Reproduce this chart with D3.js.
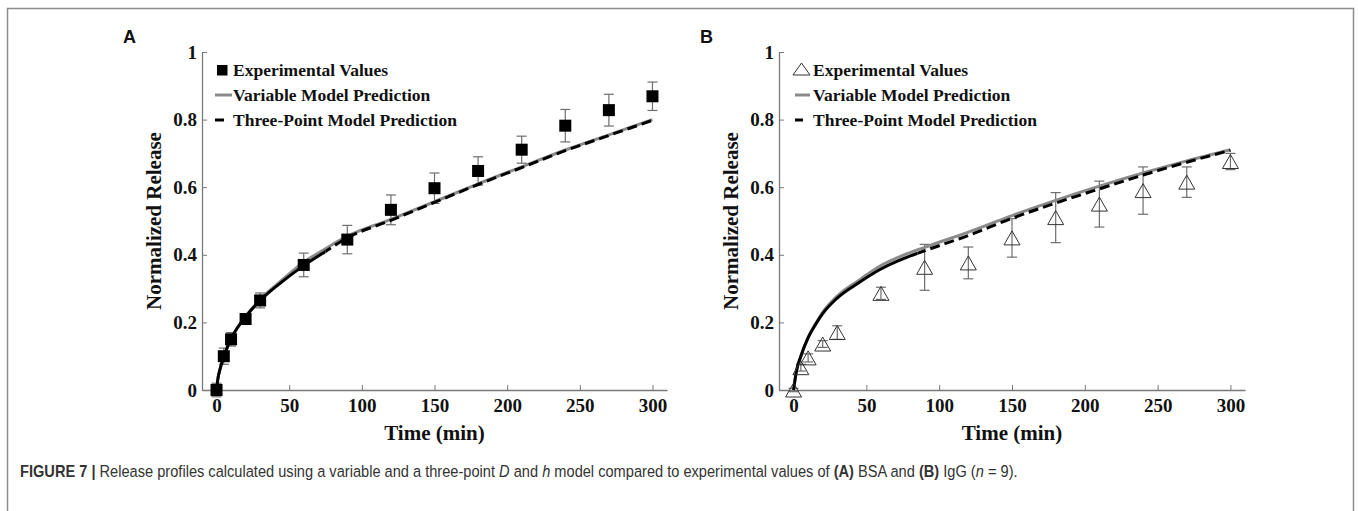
<!DOCTYPE html>
<html><head><meta charset="utf-8">
<script src="https://cdn.jsdelivr.net/npm/d3@7"></script>
<style>
body{margin:0;background:#fff;}
svg{display:block;}
</style></head>
<body>
<svg id="fig" width="1358" height="511"></svg>
<script>
// ---------- data ----------
const expTime = [0,5,10,20,30,60,90,120,150,180,210,240,270,300];
const bsaMean = [0.0,0.10,0.15,0.21,0.265,0.37,0.445,0.533,0.597,0.648,0.711,0.782,0.828,0.869];
const bsaErr  = [0.02,0.024,0.02,0.01,0.022,0.035,0.042,0.044,0.045,0.042,0.04,0.048,0.047,0.042];
const iggMean = [0.0,0.066,0.095,0.136,0.17,0.286,0.363,0.376,0.45,0.51,0.55,0.59,0.615,0.676];
const iggErr  = [0.005,0.01,0.012,0.01,0.02,0.018,0.068,0.047,0.057,0.074,0.068,0.07,0.045,0.024];

const modelTime = [0,1,2,5,10,15,20,30,45,60,75,90,120,150,180,210,240,270,300];
const bsaVariable   = [0,0.035,0.055,0.098,0.152,0.188,0.218,0.268,0.325,0.378,0.418,0.455,0.505,0.557,0.61,0.66,0.71,0.755,0.80];
const bsaThreePoint = [0,0.035,0.055,0.098,0.152,0.188,0.217,0.265,0.32,0.368,0.41,0.45,0.502,0.555,0.608,0.658,0.708,0.753,0.798];
const iggVariable   = [0,0.03,0.056,0.10,0.155,0.195,0.23,0.278,0.325,0.368,0.398,0.422,0.467,0.516,0.561,0.603,0.642,0.678,0.711];
const iggThreePoint = [0,0.03,0.056,0.10,0.155,0.193,0.226,0.272,0.318,0.358,0.388,0.412,0.457,0.508,0.553,0.595,0.636,0.674,0.709];

const xTicks = [0,50,100,150,200,250,300];
const yTicks = [0,0.2,0.4,0.6,0.8,1];
const legendLabels = ["Experimental Values","Variable Model Prediction","Three-Point Model Prediction"];
const panelLabels = ["A","B"];
const xTitle = "Time (min)";
const yTitle = "Normalized Release";

// ---------- drawing ----------
const svg = d3.select("#fig");
const serif = "'Liberation Serif','Times New Roman',serif";
const sans = "'Liberation Sans',Arial,sans-serif";

svg.append("rect").attr("x",7.5).attr("y",8.5).attr("width",1346).attr("height",600)
  .attr("fill","none").attr("stroke","#8c8c8c").attr("stroke-width",1.5);

const panels = [
  {x0:202, x1:667, mean:bsaMean, err:bsaErr, varM:bsaVariable, tpM:bsaThreePoint, marker:"square", solidTo:75},
  {x0:779, x1:1245, mean:iggMean, err:iggErr, varM:iggVariable, tpM:iggThreePoint, marker:"triangle", solidTo:85}
];

panels.forEach((p,pi)=>{
  const x = d3.scaleLinear().domain([-10,310]).range([p.x0,p.x1]);
  const y = d3.scaleLinear().domain([0,1]).range([390,52]);
  const g = svg.append("g");

  // axes
  const xa = g.append("g").attr("transform","translate(0,390)")
    .call(d3.axisBottom(x).tickValues(xTicks).tickSizeInner(-5).tickSizeOuter(0).tickPadding(9).tickFormat(d3.format("d")));
  const ya = g.append("g").attr("transform",`translate(${p.x0},0)`)
    .call(d3.axisLeft(y).tickValues(yTicks).tickSizeInner(-5).tickSizeOuter(0).tickPadding(5).tickFormat(d=>d===0?"0":d===1?"1":d3.format(".1f")(d)));
  [xa,ya].forEach(a=>{
    a.select(".domain").attr("stroke","#7a7a7a").attr("stroke-width",1.3);
    a.selectAll(".tick line").attr("stroke","#7a7a7a").attr("stroke-width",1);
    a.selectAll(".tick text").attr("fill","#111").attr("font-family",serif).attr("font-weight","bold").attr("font-size",19);
  });

  // titles
  g.append("text").attr("x",(p.x0+p.x1)/2).attr("y",440).attr("text-anchor","middle")
    .attr("font-family",serif).attr("font-weight","bold").attr("font-size",21).attr("fill","#111").text(xTitle);
  g.append("text").attr("transform",`translate(${p.x0-41},221) rotate(-90)`).attr("text-anchor","middle")
    .attr("font-family",serif).attr("font-weight","bold").attr("font-size",21).attr("fill","#111").text(yTitle);
  g.append("text").attr("x",p.x0-79).attr("y",43).attr("font-family",sans).attr("font-weight","bold")
    .attr("font-size",18).attr("fill","#111").text(panelLabels[pi]);

  // error bars
  const eb = g.append("g").attr("stroke","#6e6e6e").attr("stroke-width",1.2).attr("fill","none");
  expTime.forEach((t,i)=>{
    const cx = x(t), yt = y(p.mean[i]+p.err[i]), yb = y(p.mean[i]-p.err[i]);
    eb.append("line").attr("x1",cx).attr("x2",cx).attr("y1",yt).attr("y2",yb);
    eb.append("line").attr("x1",cx-5).attr("x2",cx+5).attr("y1",yt).attr("y2",yt);
    eb.append("line").attr("x1",cx-5).attr("x2",cx+5).attr("y1",yb).attr("y2",yb);
  });

  // model lines
  const line = d3.line().x(d=>x(d[0])).y(d=>y(d[1])).curve(d3.curveMonotoneX);
  const varData = modelTime.map((t,i)=>[t,p.varM[i]]);
  const tpData = modelTime.map((t,i)=>[t,p.tpM[i]]);
  g.append("path").attr("d",line(varData)).attr("fill","none").attr("stroke","#8a8a8a").attr("stroke-width",3);
  const clipId = "clip"+pi;
  g.append("clipPath").attr("id",clipId).append("rect")
    .attr("x",0).attr("y",0).attr("width",x(p.solidTo)).attr("height",511);
  g.append("path").attr("d",line(tpData)).attr("fill","none").attr("stroke","#000").attr("stroke-width",3)
    .attr("clip-path",`url(#${clipId})`);
  const clipId2 = "clipb"+pi;
  g.append("clipPath").attr("id",clipId2).append("rect")
    .attr("x",x(p.solidTo)).attr("y",0).attr("width",1358).attr("height",511);
  g.append("path").attr("d",line(tpData)).attr("fill","none").attr("stroke","#000").attr("stroke-width",3)
    .attr("stroke-dasharray","10,5").attr("clip-path",`url(#${clipId2})`);

  // markers
  const mk = g.append("g");
  expTime.forEach((t,i)=>{
    const cx = x(t), cy = y(p.mean[i]);
    if(p.marker==="square"){
      mk.append("rect").attr("x",cx-6).attr("y",cy-6).attr("width",12).attr("height",12).attr("fill","#000");
    } else {
      mk.append("path").attr("d",`M${cx},${cy-7}L${cx+8},${cy+7}L${cx-8},${cy+7}Z`)
        .attr("fill","none").attr("stroke","#333").attr("stroke-width",1);
    }
  });

  // legend
  const lx = p.x0 + (p.marker==="square"?31:34);
  const lg = g.append("g");
  if(p.marker==="square"){
    lg.append("rect").attr("x",lx-16).attr("y",65).attr("width",10.5).attr("height",10.5).attr("fill","#000");
    lg.append("line").attr("x1",lx-18).attr("x2",lx-1).attr("y1",95).attr("y2",95).attr("stroke","#8a8a8a").attr("stroke-width",3);
    lg.append("line").attr("x1",lx-18).attr("x2",lx-9).attr("y1",120).attr("y2",120).attr("stroke","#000").attr("stroke-width",3);
  } else {
    lg.append("path").attr("d",`M${lx-11.5},${63}L${lx-3},${75}L${lx-20},${75}Z`).attr("fill","none").attr("stroke","#333").attr("stroke-width",1);
    lg.append("line").attr("x1",lx-18).attr("x2",lx-3).attr("y1",95).attr("y2",95).attr("stroke","#8a8a8a").attr("stroke-width",3);
    lg.append("line").attr("x1",lx-18).attr("x2",lx-10).attr("y1",120).attr("y2",120).attr("stroke","#000").attr("stroke-width",3);
  }
  legendLabels.forEach((s,i)=>{
    lg.append("text").attr("x",lx).attr("y",[76,101,126][i]).attr("font-family",serif).attr("font-weight","bold")
      .attr("font-size",17.5).attr("fill","#111").text(s);
  });
});

// caption
const capG = svg.append("g");
const cap = capG.append("text").attr("x",0).attr("y",0).attr("font-family",sans).attr("font-size",16.5).attr("fill","#333");
cap.append("tspan").attr("font-weight","bold").text("FIGURE 7 | ");
cap.append("tspan").text("Release profiles calculated using a variable and a three-point ");
cap.append("tspan").attr("font-style","italic").text("D");
cap.append("tspan").text(" and ");
cap.append("tspan").attr("font-style","italic").text("h");
cap.append("tspan").text(" model compared to experimental values of ");
cap.append("tspan").attr("font-weight","bold").text("(A)");
cap.append("tspan").text(" BSA and ");
cap.append("tspan").attr("font-weight","bold").text("(B)");
cap.append("tspan").text(" IgG (");
cap.append("tspan").attr("font-style","italic").text("n");
cap.append("tspan").text(" = 9).");
const w = cap.node().getBBox().width;
capG.attr("transform",`translate(20,477) scale(${998/w},1)`);
</script>
</body></html>
